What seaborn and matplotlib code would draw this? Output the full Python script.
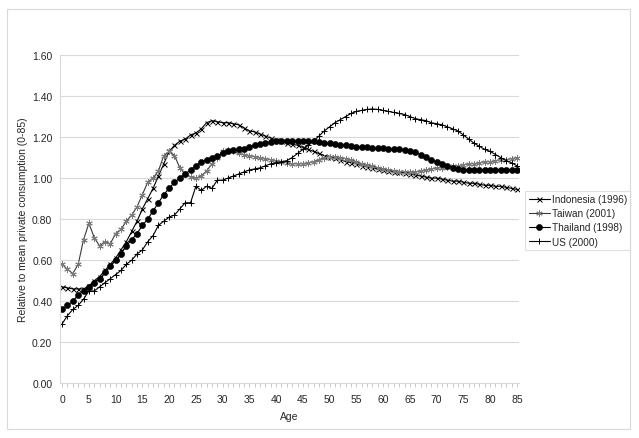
import numpy as np
import pandas as pd
import matplotlib
matplotlib.use("Agg")
import matplotlib.pyplot as plt
import seaborn as sns
from matplotlib.patches import Rectangle
from matplotlib.ticker import MultipleLocator, FormatStrFormatter

ages = list(range(0, 86))

indonesia = [0.47, 0.465, 0.46, 0.46, 0.46, 0.475, 0.50, 0.52, 0.55, 0.58,
             0.61, 0.65, 0.69, 0.74, 0.79, 0.85, 0.90, 0.95, 1.01, 1.07,
             1.13, 1.16, 1.18, 1.19, 1.21, 1.22, 1.24, 1.27, 1.28, 1.275,
             1.27, 1.27, 1.265, 1.26, 1.245, 1.23, 1.225, 1.215, 1.205, 1.195,
             1.185, 1.18, 1.17, 1.165, 1.16, 1.15, 1.14, 1.13, 1.12, 1.11,
             1.105, 1.10, 1.09, 1.08, 1.075, 1.07, 1.06, 1.055, 1.05, 1.045,
             1.04, 1.035, 1.03, 1.03, 1.025, 1.02, 1.015, 1.01, 1.005, 1.00,
             1.00, 0.995, 0.99, 0.985, 0.985, 0.98, 0.975, 0.975, 0.97, 0.965,
             0.965, 0.96, 0.96, 0.955, 0.95, 0.945]

taiwan = [0.58, 0.555, 0.535, 0.58, 0.70, 0.78, 0.71, 0.67, 0.69, 0.68,
          0.73, 0.75, 0.79, 0.82, 0.86, 0.92, 0.98, 1.00, 1.035, 1.11,
          1.13, 1.11, 1.05, 1.02, 1.005, 1.00, 1.01, 1.035, 1.07, 1.10,
          1.13, 1.135, 1.13, 1.12, 1.115, 1.11, 1.105, 1.10, 1.095, 1.09,
          1.085, 1.08, 1.075, 1.07, 1.07, 1.07, 1.075, 1.08, 1.09, 1.10,
          1.105, 1.105, 1.10, 1.095, 1.09, 1.08, 1.07, 1.065, 1.06, 1.05,
          1.045, 1.04, 1.035, 1.03, 1.03, 1.03, 1.03, 1.035, 1.04, 1.045,
          1.05, 1.05, 1.055, 1.06, 1.06, 1.065, 1.07, 1.07, 1.075, 1.08,
          1.08, 1.085, 1.09, 1.09, 1.095, 1.10]

thailand = [0.36, 0.38, 0.40, 0.43, 0.45, 0.47, 0.49, 0.51, 0.54, 0.57,
            0.60, 0.63, 0.67, 0.70, 0.73, 0.77, 0.80, 0.84, 0.88, 0.92,
            0.95, 0.98, 1.00, 1.02, 1.04, 1.06, 1.08, 1.09, 1.10, 1.11,
            1.12, 1.13, 1.135, 1.14, 1.14, 1.15, 1.16, 1.165, 1.17, 1.175,
            1.18, 1.18, 1.18, 1.18, 1.18, 1.18, 1.18, 1.18, 1.175, 1.17,
            1.17, 1.165, 1.16, 1.16, 1.155, 1.15, 1.15, 1.15, 1.145, 1.145,
            1.145, 1.14, 1.14, 1.14, 1.135, 1.13, 1.125, 1.115, 1.105, 1.09,
            1.08, 1.07, 1.06, 1.05, 1.045, 1.04, 1.04, 1.04, 1.04, 1.04,
            1.04, 1.04, 1.04, 1.04, 1.04, 1.04]

us = [0.29, 0.33, 0.36, 0.38, 0.41, 0.45, 0.45, 0.47, 0.49, 0.51,
      0.53, 0.55, 0.58, 0.60, 0.63, 0.65, 0.69, 0.72, 0.77, 0.79,
      0.81, 0.82, 0.85, 0.88, 0.88, 0.96, 0.94, 0.96, 0.95, 0.99,
      0.99, 1.00, 1.01, 1.02, 1.03, 1.04, 1.045, 1.05, 1.06, 1.07,
      1.075, 1.08, 1.085, 1.10, 1.12, 1.14, 1.16, 1.18, 1.205, 1.23,
      1.25, 1.27, 1.285, 1.30, 1.315, 1.325, 1.33, 1.335, 1.337, 1.335,
      1.33, 1.325, 1.32, 1.315, 1.31, 1.30, 1.29, 1.285, 1.28, 1.27,
      1.265, 1.26, 1.25, 1.24, 1.23, 1.21, 1.19, 1.17, 1.155, 1.14,
      1.13, 1.115, 1.10, 1.085, 1.075, 1.06]

series_names = ["Indonesia (1996)", "Taiwan (2001)", "Thailand (1998)", "US (2000)"]

sns.set_style("white")
plt.rcParams['font.family'] = ['Liberation Sans', 'DejaVu Sans']

fig = plt.figure(figsize=(6.39, 4.39), dpi=100)
fig.patch.set_facecolor("white")
fig.patches.append(Rectangle((7/639, 1-430/439), (630-7)/639, (430-10)/439,
                             transform=fig.transFigure, fill=False,
                             edgecolor="#d9d9d9", linewidth=0.8))

ax = fig.add_axes([60/639, 1-384.3/439, (519-60)/639, (384.3-56)/439])

styles = [
    dict(color="black", marker="x", markersize=3.6, markeredgewidth=0.7,
         markeredgecolor="black", linewidth=0.8),
    dict(color="#3a3a3a", marker=(6, 2, 0), markersize=4.6, markeredgewidth=0.7,
         markeredgecolor="#7a7a7a", linewidth=0.8),
    dict(color="black", marker="o", markersize=4.4, markeredgewidth=0.4,
         markeredgecolor="black", linewidth=0.8),
    dict(color="black", marker="+", markersize=4.6, markeredgewidth=0.7,
         markeredgecolor="black", linewidth=0.8),
]
for name, vals, st in zip(series_names, [indonesia, taiwan, thailand, us], styles):
    df = pd.DataFrame({"Age": ages, "v": vals})
    sns.lineplot(data=df, x="Age", y="v", ax=ax, label=name, **st)

ax.set_xlim(-0.4, 85.4)
ax.set_ylim(0, 1.6)
ax.yaxis.set_major_locator(MultipleLocator(0.2))
ax.yaxis.set_major_formatter(FormatStrFormatter("%.2f"))
ax.xaxis.set_major_locator(MultipleLocator(5))
ax.xaxis.set_minor_locator(MultipleLocator(1))
ax.grid(axis="y", color="#d9d9d9", linewidth=0.8)
ax.set_axisbelow(True)
for s in ["top", "right"]:
    ax.spines[s].set_visible(False)
for s in ["left", "bottom"]:
    ax.spines[s].set_color("#d9d9d9")
    ax.spines[s].set_linewidth(0.8)
ax.tick_params(axis="x", which="both", direction="out", length=3, width=0.6,
               color="#bfbfbf", labelsize=7.5, pad=5, bottom=True)
ax.tick_params(axis="y", length=0, labelsize=7.5, pad=5.5)
ax.set_xlabel("Age", fontsize=7.5, labelpad=5)
ax.set_ylabel("Relative to mean private consumption (0-85)", fontsize=7.5, labelpad=3)

leg = ax.legend(loc="upper left", bbox_to_anchor=(525/639, 1-191.5/439),
                bbox_transform=fig.transFigure, frameon=True, fancybox=False,
                fontsize=7.2, handlelength=2.1, handletextpad=0.2,
                borderpad=0.35, labelspacing=0.42, borderaxespad=0)
leg.get_frame().set_edgecolor("#d9d9d9")
leg.get_frame().set_linewidth(0.8)

fig.savefig("out.png", dpi=100, facecolor="white")
